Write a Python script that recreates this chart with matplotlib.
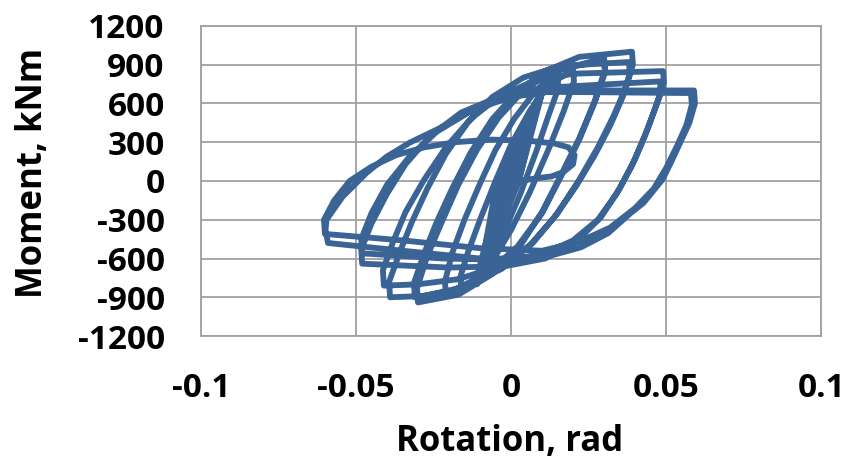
import matplotlib
matplotlib.use('Agg')
import matplotlib.pyplot as plt

# hysteresis path, cycle by cycle (rotation rad, moment kNm)
elastic_rot = [0, 0.004, 0.0015, -0.005, -0.0035, 0.005, 0.0025, -0.006, -0.0025,
               0.0065, 0.0005, -0.0075, -0.0015, 0.0075, 0.0025, -0.0085, -0.0035,
               0.0085, 0.0015, -0.0095, -0.0025, 0.0095, 0.0005, -0.0105, -0.0045,
               0.010, 0.0025, -0.011]
elastic_mom = [0, 250, 0, -330, 0, 330, 0, -420, 0,
               420, 0, -520, 0, 500, 0, -620, 0,
               570, 0, -700, 0, 640, 0, -780, 0,
               680, 0, -800]

c015_rot = [-0.0105, -0.007, -0.003, 0.001, 0.005, 0.010, 0.015, 0.0153,
            0.012, 0.008, 0.003, -0.002, -0.007, -0.012, -0.016, -0.0163]
c015_mom = [-700, -380, -60, 230, 480, 700, 800, 720,
            500, 220, -100, -380, -620, -780, -840, -740]

c02_rot = [-0.014, -0.010, -0.005, 0.0, 0.006, 0.012, 0.020, 0.0203,
           0.017, 0.012, 0.006, 0.0, -0.006, -0.013, -0.021, -0.0213]
c02_mom = [-560, -300, 0, 280, 540, 740, 860, 770,
           540, 240, -90, -380, -620, -790, -880, -780]

c03a_rot = [-0.019, -0.015, -0.010, -0.005, 0.001, 0.008, 0.016, 0.030, 0.0303,
            0.027, 0.022, 0.016, 0.010, 0.003, -0.006, -0.017, -0.030, -0.0303]
c03a_mom = [-560, -300, -20, 240, 480, 700, 860, 950, 860,
            620, 330, 40, -240, -500, -720, -880, -940, -830]

c03b_rot = [-0.027, -0.022, -0.017, -0.011, -0.004, 0.004, 0.014, 0.030, 0.0303,
            0.027, 0.022, 0.016, 0.010, 0.002, -0.008, -0.019, -0.031, -0.0313]
c03b_mom = [-580, -300, -30, 240, 490, 700, 860, 930, 840,
            610, 320, 30, -250, -510, -720, -850, -900, -790]

c04a_rot = [-0.028, -0.024, -0.019, -0.013, -0.006, 0.002, 0.011, 0.022, 0.039, 0.0393,
            0.037, 0.033, 0.028, 0.022, 0.015, 0.007, -0.003, -0.015, -0.028, -0.039, -0.0393]
c04a_mom = [-560, -320, -60, 220, 480, 690, 850, 960, 1000, 900,
            720, 500, 260, 10, -250, -480, -680, -820, -890, -900, -780]

c04b_rot = [-0.036, -0.032, -0.027, -0.021, -0.014, -0.006, 0.004, 0.016, 0.038, 0.0383,
            0.036, 0.032, 0.027, 0.021, 0.014, 0.006, -0.004, -0.017, -0.030, -0.041, -0.0413]
c04b_mom = [-560, -320, -60, 210, 450, 650, 800, 890, 920, 830,
            650, 430, 200, -40, -280, -500, -660, -760, -800, -810, -690]

c05a_rot = [-0.038, -0.034, -0.028, -0.021, -0.013, -0.004, 0.007, 0.020, 0.049, 0.0493,
            0.047, 0.044, 0.040, 0.035, 0.029, 0.021, 0.011, -0.002, -0.020, -0.048, -0.0483]
c05a_mom = [-470, -240, 10, 260, 480, 650, 770, 830, 850, 760,
            600, 400, 170, -60, -280, -470, -600, -660, -670, -640, -530]

c05b_rot = [-0.045, -0.040, -0.034, -0.026, -0.016, -0.004, 0.010, 0.048, 0.0483,
            0.046, 0.043, 0.039, 0.034, 0.028, 0.020, 0.010, -0.003, -0.022, -0.048, -0.0483]
c05b_mom = [-330, -100, 130, 350, 530, 650, 720, 770, 680,
            530, 340, 120, -100, -300, -460, -570, -610, -600, -560, -450]

c06a_rot = [-0.045, -0.040, -0.033, -0.024, -0.013, 0.0, 0.015, 0.059, 0.0593,
            0.0575, 0.0545, 0.0515, 0.0488, 0.0427, 0.0387, 0.0313, 0.0226, 0.0094,
            -0.010, -0.035, -0.059, -0.0598, -0.0595]
c06a_mom = [-250, -30, 180, 380, 540, 650, 700, 700, 600,
            450, 296, 140, 10, -170, -246, -404, -513, -600,
            -600, -540, -480, -380, -300]

c06b_rot = [-0.0543, -0.0465, -0.0401, -0.0326, -0.0219, -0.0122, -0.003, 0.010, 0.058, 0.0583,
            0.0565, 0.0535, 0.050, 0.046, 0.040, 0.032, 0.022, 0.010,
            -0.010, -0.035, -0.060, -0.0603]
c06b_mom = [-122, 64, 188, 297, 421, 553, 640, 690, 680, 590,
            430, 270, 100, -60, -210, -360, -470, -540,
            -520, -460, -410, -300]

final_rot = [-0.057, -0.052, -0.045, -0.037, -0.028, -0.018, -0.006, 0.006, 0.014,
             0.0185, 0.0205, 0.020, 0.017, 0.013, 0.008, 0.003, 0.0]
final_mom = [-150, 0, 110, 200, 260, 300, 320, 310, 290,
             260, 200, 130, 70, 35, 20, 0, -15]

rotation = (elastic_rot + c015_rot + c02_rot + c03a_rot + c03b_rot + c04a_rot + c04b_rot
            + c05a_rot + c05b_rot + c06a_rot + c06b_rot + final_rot)
moment = (elastic_mom + c015_mom + c02_mom + c03a_mom + c03b_mom + c04a_mom + c04b_mom
          + c05a_mom + c05b_mom + c06a_mom + c06b_mom + final_mom)

x_ticks = [-0.1, -0.05, 0, 0.05, 0.1]
x_labels = ['-0.1', '-0.05', '0', '0.05', '0.1']
y_ticks = [-1200, -900, -600, -300, 0, 300, 600, 900, 1200]
y_labels = ['-1200', '-900', '-600', '-300', '0', '300', '600', '900', '1200']

plt.rcParams['font.family'] = ['Open Sans', 'DejaVu Sans']
plt.rcParams['font.weight'] = 'bold'
plt.rcParams['axes.unicode_minus'] = False

fig = plt.figure(figsize=(8.51, 4.70), dpi=100)
ax = fig.add_axes([0.236, 0.285, 0.729, 0.66])

ax.plot(rotation, moment, color='#3A6496', lw=4.2, solid_joinstyle='round',
        solid_capstyle='round', zorder=3)

ax.set_xlim(-0.1, 0.1)
ax.set_ylim(-1200, 1200)
ax.set_xticks(x_ticks)
ax.set_xticklabels(x_labels)
ax.set_yticks(y_ticks)
ax.set_yticklabels(y_labels)
ax.grid(True, color='#A0A0A0', lw=1.3)
ax.set_axisbelow(True)
for s in ax.spines.values():
    s.set_color('#A0A0A0')
    s.set_linewidth(1.3)
ax.tick_params(length=0, labelsize=24, pad=26)
for lab in ax.get_xticklabels() + ax.get_yticklabels():
    lab.set_fontweight('bold')

fig.text(0.039, 0.633, 'Moment, kNm', rotation=90, ha='center', va='center',
         fontsize=25, fontweight='bold')
fig.text(0.599, 0.06, 'Rotation, rad', ha='center', va='center',
         fontsize=25, fontweight='bold')

fig.savefig('out.png', dpi=100)
